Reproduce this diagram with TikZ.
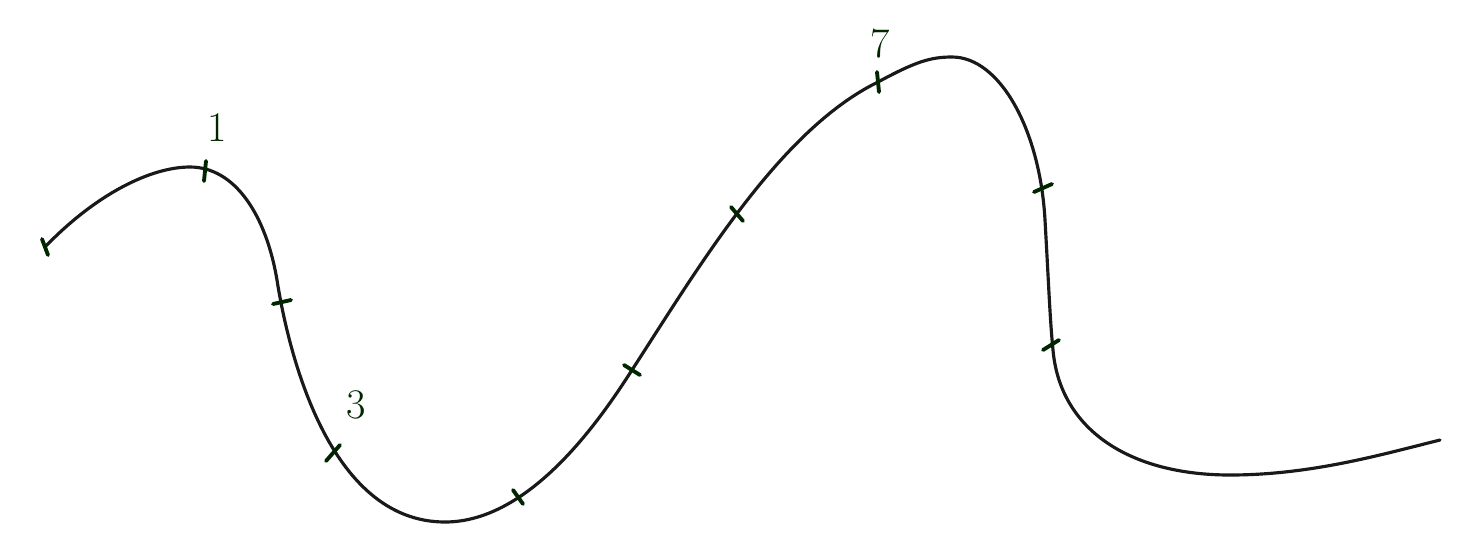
\documentclass[tikz,border=0pt]{standalone}
\usepackage{tikz}
\usetikzlibrary{positioning,calc}

\tikzset{
  wave/.style={line width=1.8pt, black!90, line cap=round, line join=round},
  tickmark/.style={line width=2.2pt, black!85!green, line cap=round},
  numlabel/.style={font=\fontsize{24}{24}\selectfont, black!85!green}
}

\begin{document}
\begin{tikzpicture}[x=0.02cm, y=-0.02cm]
  % Frame: 1 unit = 1 pixel of the sketch
  \useasboundingbox (0,0) rectangle (1461,539);

  % The wavy curve
  \draw[wave] (45,247) .. controls (95,195) and (150,167) .. (190,167)
    .. controls (235,167) and (266,215) .. (277,280)
    .. controls (288,350) and (328,522) .. (445,522)
    .. controls (530,522) and (600,420) .. (632,370)
    .. controls (700,265) and (780,130) .. (878,82)
    .. controls (915,62) and (930,57) .. (952,57)
    .. controls (1000,57) and (1040,130) .. (1045,220)
    .. controls (1049,290) and (1050,320) .. (1053,350)
    .. controls (1060,430) and (1130,475) .. (1230,475)
    .. controls (1310,475) and (1380,455) .. (1440,440);

  % Tick marks: centre / half-vector
  \foreach \cx/\cy/\hx/\hy in {45/247/3/8, 205/171/1/-10, 282/302/9/-2,
      333/453/7/-8, 518/497/5/7, 632/370/8/5, 737/214/6/7, 878/82/1/10,
      1043/188/9/-4, 1051/345/8/-5} {
    \draw[tickmark] (\cx-\hx,\cy-\hy) -- (\cx+\hx,\cy+\hy);
  }

  % Numbers
  \node[numlabel] (n1) at (217,128) {1};
  \node[numlabel] (n3) at (356,405) {3};
  \node[numlabel] (n7) at (880,44) {7};
\end{tikzpicture}
\end{document}
